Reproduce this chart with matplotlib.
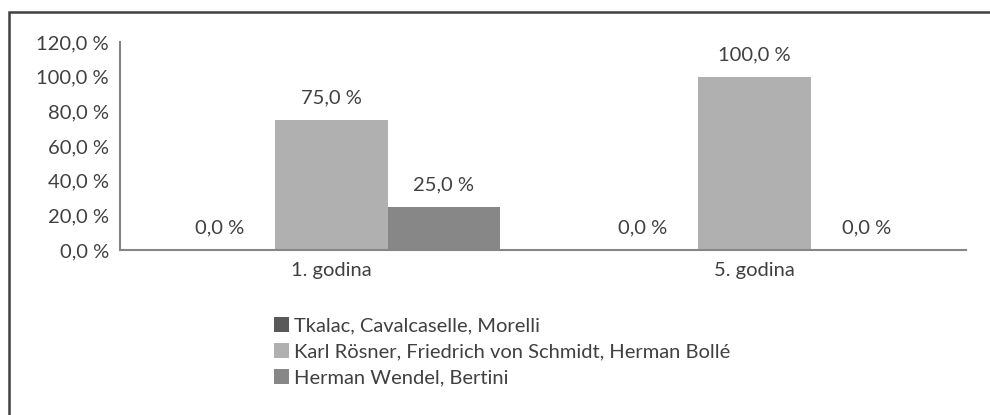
import matplotlib.pyplot as plt
import numpy as np
from matplotlib.patches import Rectangle

categories = ["1. godina", "5. godina"]
series_names = [
    "Tkalac, Cavalcaselle, Morelli",
    "Karl Rösner, Friedrich von Schmidt, Herman Bollé",
    "Herman Wendel, Bertini",
]
tkalac = [0.0, 0.0]
rosner = [75.0, 100.0]
wendel = [25.0, 0.0]
yticks = [0, 20, 40, 60, 80, 100, 120]

colors = ["#595959", "#b0b0b0", "#878787"]
text_color = "#404040"
fs = 14.5

plt.rcParams["font.family"] = ["Lato", "DejaVu Sans"]

fig = plt.figure(figsize=(9.9, 4.15), dpi=100)
ax = fig.add_axes([0.1212, 0.3976, 0.8546, 0.5012])

x = np.arange(len(categories))
w = 0.265
for i, (vals, name, c) in enumerate(zip([tkalac, rosner, wendel], series_names, colors)):
    bars = ax.bar(x + (i - 1) * w, vals, width=w, color=c, label=name, zorder=2)
    for b, v in zip(bars, vals):
        ax.annotate(f"{v:.1f} %".replace(".", ","),
                    (b.get_x() + b.get_width() / 2, v),
                    xytext=(0, 16), textcoords="offset points",
                    ha="center", va="center", fontsize=fs, color=text_color)

ax.set_xlim(-0.5, 1.5)
ax.set_ylim(0, 120)
ax.set_yticks(yticks)
ax.set_yticklabels([f"{t:.1f} %".replace(".", ",") for t in yticks])
ax.set_xticks(x)
ax.set_xticklabels(categories)
ax.tick_params(axis="both", length=0, labelsize=fs, colors=text_color)
ax.tick_params(axis="y", pad=8)
ax.tick_params(axis="x", pad=9)
for s in ["top", "right"]:
    ax.spines[s].set_visible(False)
for s in ["left", "bottom"]:
    ax.spines[s].set_color("#868686")
    ax.spines[s].set_linewidth(1.5)

ax.legend(loc="upper left", bbox_to_anchor=(266 / 990, 1 - 309 / 415),
          bbox_transform=fig.transFigure, frameon=False, fontsize=fs,
          labelcolor=text_color, handlelength=0.75, handleheight=0.75,
          handletextpad=0.25, labelspacing=0.42, borderaxespad=0)

fig.patches.append(Rectangle((8.5 / 990, -0.1), 1.2, 1 - 12.5 / 415 + 0.1,
                             transform=fig.transFigure, fill=False,
                             edgecolor="#404040", linewidth=1.8))

fig.savefig("out.png", dpi=100)
